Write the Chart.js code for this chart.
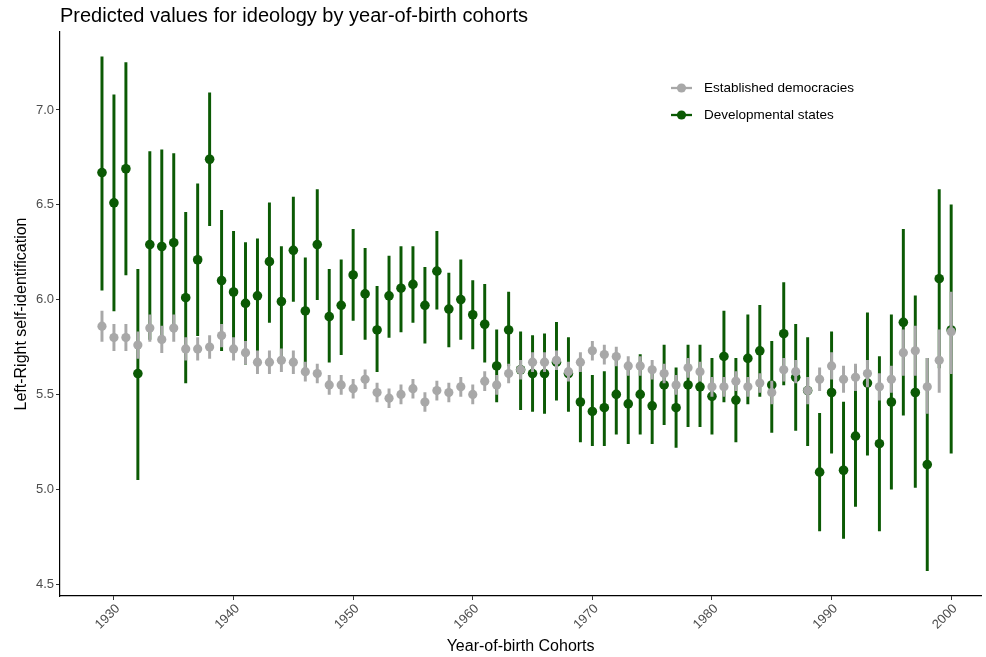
<!DOCTYPE html>
<html>
<head>
<meta charset="utf-8">
<script src="https://cdn.jsdelivr.net/npm/chart.js@4.4.1/dist/chart.umd.min.js"></script>
<style>
  html, body { margin: 0; padding: 0; background: #fff; }
  #wrap { width: 986px; height: 657px; }
</style>
</head>
<body>
<div id="wrap"><canvas id="myChart" width="986" height="657"></canvas></div>
<script>
// cohorts (year of birth)
const years = [
    1929, 1930, 1931, 1932, 1933, 1934, 1935, 1936, 1937, 1938,
    1939, 1940, 1941, 1942, 1943, 1944, 1945, 1946, 1947, 1948,
    1949, 1950, 1951, 1952, 1953, 1954, 1955, 1956, 1957, 1958,
    1959, 1960, 1961, 1962, 1963, 1964, 1965, 1966, 1967, 1968,
    1969, 1970, 1971, 1972, 1973, 1974, 1975, 1976, 1977, 1978,
    1979, 1980, 1981, 1982, 1983, 1984, 1985, 1986, 1987, 1988,
    1989, 1990, 1991, 1992, 1993, 1994, 1995, 1996, 1997, 1998,
    1999, 2000
];

// Established democracies
const estValues = [
    5.86, 5.80, 5.80, 5.76, 5.85, 5.79, 5.85, 5.74, 5.74, 5.75,
    5.81, 5.74, 5.72, 5.67, 5.67, 5.68, 5.67, 5.62, 5.61, 5.55,
    5.55, 5.53, 5.58, 5.51, 5.48, 5.50, 5.53, 5.46, 5.52, 5.51,
    5.54, 5.50, 5.57, 5.55, 5.61, 5.63, 5.67, 5.67, 5.68, 5.62,
    5.67, 5.73, 5.71, 5.70, 5.65, 5.65, 5.63, 5.61, 5.55, 5.64,
    5.62, 5.54, 5.54, 5.57, 5.54, 5.56, 5.51, 5.63, 5.62, 5.52,
    5.58, 5.65, 5.58, 5.59, 5.61, 5.54, 5.58, 5.72, 5.73, 5.54,
    5.68, 5.83
];
const estLow = [
    5.78, 5.73, 5.73, 5.69, 5.78, 5.72, 5.78, 5.68, 5.68, 5.69,
    5.75, 5.68, 5.66, 5.61, 5.61, 5.62, 5.61, 5.57, 5.56, 5.50,
    5.50, 5.48, 5.53, 5.46, 5.43, 5.45, 5.48, 5.41, 5.47, 5.46,
    5.49, 5.45, 5.52, 5.50, 5.56, 5.58, 5.62, 5.62, 5.63, 5.57,
    5.62, 5.68, 5.66, 5.65, 5.60, 5.60, 5.58, 5.56, 5.50, 5.59,
    5.57, 5.49, 5.49, 5.52, 5.49, 5.51, 5.45, 5.57, 5.56, 5.45,
    5.52, 5.58, 5.51, 5.52, 5.54, 5.47, 5.51, 5.60, 5.60, 5.40,
    5.51, 5.61
];
const estHigh = [
    5.94, 5.87, 5.87, 5.83, 5.92, 5.86, 5.92, 5.80, 5.80, 5.81,
    5.87, 5.80, 5.78, 5.73, 5.73, 5.74, 5.73, 5.67, 5.66, 5.60,
    5.60, 5.58, 5.63, 5.56, 5.53, 5.55, 5.58, 5.51, 5.57, 5.56,
    5.59, 5.55, 5.62, 5.60, 5.66, 5.68, 5.72, 5.72, 5.73, 5.67,
    5.72, 5.78, 5.76, 5.75, 5.70, 5.70, 5.68, 5.66, 5.60, 5.69,
    5.67, 5.59, 5.59, 5.62, 5.59, 5.61, 5.57, 5.69, 5.68, 5.59,
    5.64, 5.72, 5.65, 5.66, 5.68, 5.61, 5.65, 5.84, 5.86, 5.69,
    5.84, 6.04
];

// Developmental states
const devValues = [
    6.67, 6.51, 6.69, 5.61, 6.29, 6.28, 6.30, 6.01, 6.21, 6.74,
    6.10, 6.04, 5.98, 6.02, 6.20, 5.99, 6.26, 5.94, 6.29, 5.91,
    5.97, 6.13, 6.03, 5.84, 6.02, 6.06, 6.08, 5.97, 6.15, 5.95,
    6.00, 5.92, 5.87, 5.65, 5.84, 5.63, 5.61, 5.61, 5.67, 5.61,
    5.46, 5.41, 5.43, 5.50, 5.45, 5.50, 5.44, 5.55, 5.43, 5.55,
    5.54, 5.49, 5.70, 5.47, 5.69, 5.73, 5.55, 5.82, 5.59, 5.52,
    5.09, 5.51, 5.10, 5.28, 5.56, 5.24, 5.46, 5.88, 5.51, 5.13,
    6.11, 5.84
];
const devLow = [
    6.05, 5.94, 6.13, 5.05, 5.79, 5.78, 5.83, 5.56, 5.81, 6.39,
    5.73, 5.72, 5.66, 5.73, 5.88, 5.70, 5.99, 5.62, 6.00, 5.67,
    5.71, 5.89, 5.79, 5.62, 5.80, 5.83, 5.88, 5.77, 5.95, 5.75,
    5.79, 5.74, 5.67, 5.46, 5.65, 5.42, 5.41, 5.40, 5.47, 5.41,
    5.25, 5.23, 5.23, 5.29, 5.24, 5.29, 5.24, 5.34, 5.22, 5.33,
    5.33, 5.29, 5.46, 5.25, 5.45, 5.49, 5.30, 5.55, 5.31, 5.23,
    4.78, 5.19, 4.74, 4.91, 5.18, 4.78, 5.00, 5.39, 5.01, 4.57,
    5.64, 5.19
];
const devHigh = [
    7.28, 7.08, 7.25, 6.16, 6.78, 6.79, 6.77, 6.46, 6.61, 7.09,
    6.47, 6.36, 6.30, 6.32, 6.51, 6.28, 6.54, 6.22, 6.58, 6.16,
    6.21, 6.37, 6.27, 6.07, 6.23, 6.28, 6.28, 6.17, 6.36, 6.14,
    6.21, 6.10, 6.08, 5.84, 6.04, 5.83, 5.81, 5.82, 5.88, 5.80,
    5.67, 5.60, 5.62, 5.70, 5.66, 5.71, 5.64, 5.76, 5.64, 5.76,
    5.76, 5.69, 5.94, 5.69, 5.92, 5.97, 5.78, 6.09, 5.87, 5.80,
    5.40, 5.83, 5.46, 5.65, 5.93, 5.70, 5.92, 6.37, 6.02, 5.69,
    6.58, 6.50
];

// axis ticks
const xTicks = [1930, 1940, 1950, 1960, 1970, 1980, 1990, 2000];
const yTicks = [4.5, 5.0, 5.5, 6.0, 6.5, 7.0];

const GREY = '#a8a8a8';
const GREEN = '#0b5a04';
const FONT = '"Liberation Sans", Arial, sans-serif';

const bars = (lo, hi) => years.map((y, i) => ({ x: y, y: [lo[i], hi[i]] }));
const pts = (v) => years.map((y, i) => ({ x: y, y: v[i] }));

const data = {
    datasets: [
        {
            type: 'bar',
            label: 'Developmental states',
            data: bars(devLow, devHigh),
            backgroundColor: GREEN,
            barThickness: 2.3,
            grouped: false,
            order: 4
        },
        {
            type: 'scatter',
            label: 'Developmental states',
            data: pts(devValues),
            pointRadius: 4.8,
            pointBackgroundColor: GREEN,
            pointBorderWidth: 0,
            order: 3
        },
        {
            type: 'bar',
            label: 'Established democracies',
            data: bars(estLow, estHigh),
            backgroundColor: GREY,
            barThickness: 2.3,
            grouped: false,
            order: 2
        },
        {
            type: 'scatter',
            label: 'Established democracies',
            data: pts(estValues),
            pointRadius: 4.6,
            pointBackgroundColor: GREY,
            pointBorderWidth: 0,
            order: 1
        }
    ]
};

// title + legend drawn inside the panel like the ggplot original
const decorations = {
    id: 'decorations',
    afterDraw(chart) {
        const ctx = chart.ctx;
        const area = chart.chartArea;
        ctx.save();
        ctx.fillStyle = '#000';
        ctx.font = '20px ' + FONT;
        ctx.textBaseline = 'alphabetic';
        ctx.textAlign = 'left';
        ctx.fillText('Predicted values for ideology by year-of-birth cohorts', area.left, 22);

        const items = [
            { label: 'Established democracies', color: GREY, y: 88 },
            { label: 'Developmental states', color: GREEN, y: 115 }
        ];
        ctx.font = '13.5px ' + FONT;
        ctx.textBaseline = 'middle';
        items.forEach(it => {
            ctx.strokeStyle = it.color;
            ctx.lineWidth = 2.3;
            ctx.beginPath();
            ctx.moveTo(671, it.y);
            ctx.lineTo(692, it.y);
            ctx.stroke();
            ctx.fillStyle = it.color;
            ctx.beginPath();
            ctx.arc(681.5, it.y, 4.6, 0, Math.PI * 2);
            ctx.fill();
            ctx.fillStyle = '#000';
            ctx.fillText(it.label, 704, it.y + 0.5);
        });
        ctx.restore();
    }
};

const config = {
    type: 'bar',
    data: data,
    plugins: [decorations],
    options: {
        responsive: false,
        animation: false,
        layout: {
            padding: { top: 32, right: 0, bottom: 0, left: 0 }
        },
        scales: {
            x: {
                type: 'linear',
                offset: false,
                min: 1925.49,
                max: 2002.51,
                afterBuildTicks: (axis) => { axis.ticks = xTicks.map(v => ({ value: v })); },
                afterFit: (axis) => { axis.height = 61; },
                border: { color: '#000', width: 1.2 },
                grid: { offset: false, drawOnChartArea: false, drawTicks: true, tickLength: 4, color: '#333' },
                ticks: {
                    autoSkip: false,
                    minRotation: 45,
                    maxRotation: 45,
                    padding: 1,
                    labelOffset: 4,
                    color: '#4d4d4d',
                    font: { family: FONT, size: 13 },
                    callback: (v) => String(v)
                },
                title: {
                    display: true,
                    text: 'Year-of-birth Cohorts',
                    color: '#000',
                    font: { family: FONT, size: 16 },
                    padding: { top: 0, bottom: 1 }
                }
            },
            y: {
                type: 'linear',
                min: 4.437,
                max: 7.411,
                afterBuildTicks: (axis) => { axis.ticks = yTicks.map(v => ({ value: v })); },
                afterFit: (axis) => { axis.width = 60; },
                border: { color: '#000', width: 1.2 },
                grid: { drawOnChartArea: false, drawTicks: true, tickLength: 4, color: '#333' },
                ticks: {
                    padding: 2,
                    color: '#4d4d4d',
                    font: { family: FONT, size: 13 },
                    callback: (v) => v.toFixed(1)
                },
                title: {
                    display: true,
                    text: 'Left-Right self-identification',
                    color: '#000',
                    font: { family: FONT, size: 16 },
                    padding: { top: 12, bottom: 0 }
                }
            }
        },
        plugins: {
            legend: { display: false },
            tooltip: { enabled: false }
        }
    }
};

const context = document.getElementById('myChart').getContext('2d');
const myChart = new Chart(context, config);
</script>
</body>
</html>
